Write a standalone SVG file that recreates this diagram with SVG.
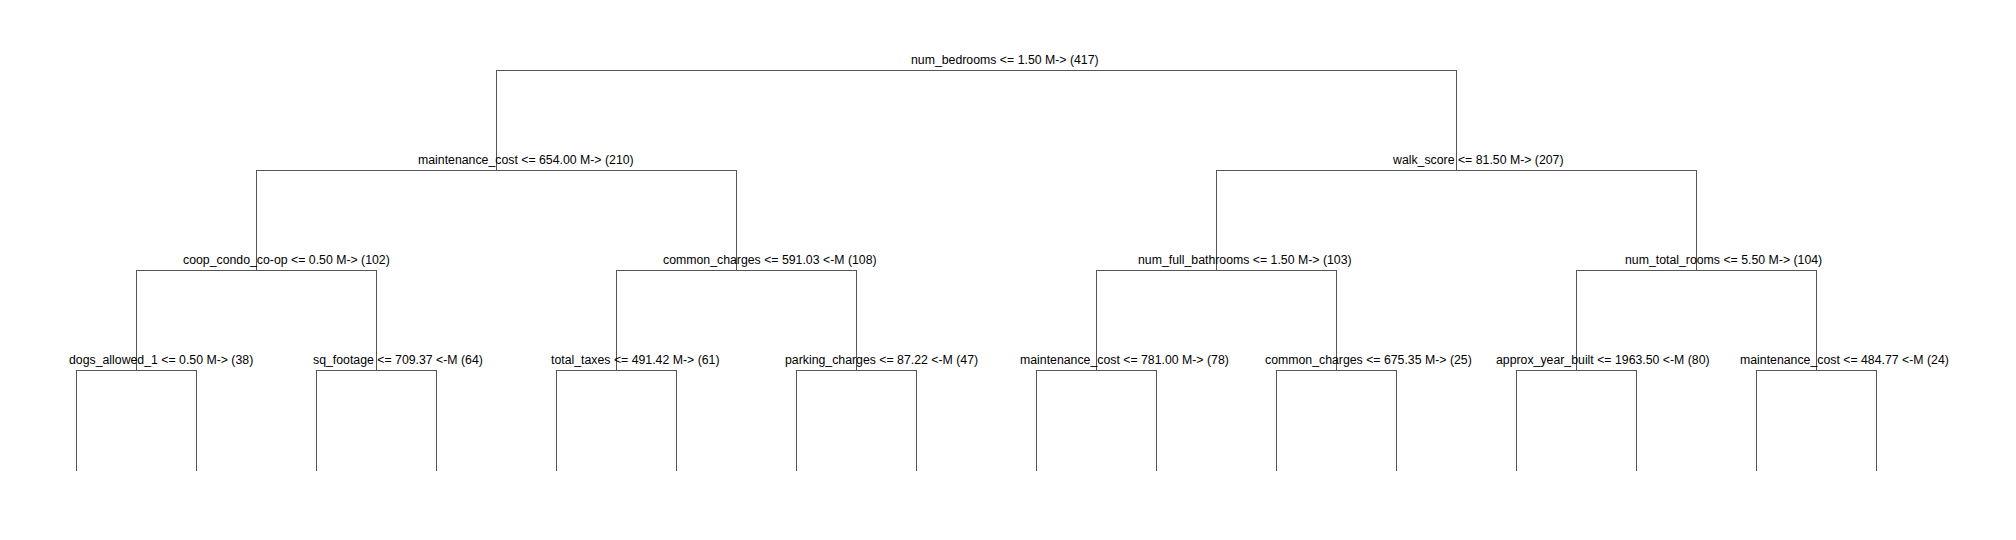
<svg xmlns="http://www.w3.org/2000/svg" width="2016" height="540" viewBox="0 0 2016 540">
<style>
.c{fill:none;stroke:#555;stroke-width:1;shape-rendering:crispEdges}
.t{font-family:"Liberation Sans",Arial,sans-serif;font-size:12.3px;fill:#000}
</style>
<rect width="2016" height="540" fill="#fff"/>
<g id="connectors">
<path class="c" d="M496.5 170.5V70.5H1456.5V170.5"/>
<path class="c" d="M256.5 270.5V170.5H736.5V270.5"/>
<path class="c" d="M1216.5 270.5V170.5H1696.5V270.5"/>
<path class="c" d="M136.5 370.5V270.5H376.5V370.5"/>
<path class="c" d="M616.5 370.5V270.5H856.5V370.5"/>
<path class="c" d="M1096.5 370.5V270.5H1336.5V370.5"/>
<path class="c" d="M1576.5 370.5V270.5H1816.5V370.5"/>
<path class="c" d="M76.5 471V370.5H196.5V471"/>
<path class="c" d="M316.5 471V370.5H436.5V471"/>
<path class="c" d="M556.5 471V370.5H676.5V471"/>
<path class="c" d="M796.5 471V370.5H916.5V471"/>
<path class="c" d="M1036.5 471V370.5H1156.5V471"/>
<path class="c" d="M1276.5 471V370.5H1396.5V471"/>
<path class="c" d="M1516.5 471V370.5H1636.5V471"/>
<path class="c" d="M1756.5 471V370.5H1876.5V471"/>
</g>
<g id="n_root"><text class="t" x="911" y="64">num_bedrooms &lt;= 1.50 M-&gt; (417)</text></g>
<g id="n_l"><text class="t" x="418" y="164">maintenance_cost &lt;= 654.00 M-&gt; (210)</text></g>
<g id="n_r"><text class="t" x="1393" y="164">walk_score &lt;= 81.50 M-&gt; (207)</text></g>
<g id="n_ll"><text class="t" x="183" y="264">coop_condo_co-op &lt;= 0.50 M-&gt; (102)</text></g>
<g id="n_lr"><text class="t" x="663" y="264">common_charges &lt;= 591.03 &lt;-M (108)</text></g>
<g id="n_rl"><text class="t" x="1138" y="264">num_full_bathrooms &lt;= 1.50 M-&gt; (103)</text></g>
<g id="n_rr"><text class="t" x="1625" y="264">num_total_rooms &lt;= 5.50 M-&gt; (104)</text></g>
<g id="n_lll"><text class="t" x="69" y="364">dogs_allowed_1 &lt;= 0.50 M-&gt; (38)</text></g>
<g id="n_llr"><text class="t" x="313" y="364">sq_footage &lt;= 709.37 &lt;-M (64)</text></g>
<g id="n_lrl"><text class="t" x="551" y="364">total_taxes &lt;= 491.42 M-&gt; (61)</text></g>
<g id="n_lrr"><text class="t" x="785" y="364">parking_charges &lt;= 87.22 &lt;-M (47)</text></g>
<g id="n_rll"><text class="t" x="1020" y="364">maintenance_cost &lt;= 781.00 M-&gt; (78)</text></g>
<g id="n_rlr"><text class="t" x="1265" y="364">common_charges &lt;= 675.35 M-&gt; (25)</text></g>
<g id="n_rrl"><text class="t" x="1496" y="364">approx_year_built &lt;= 1963.50 &lt;-M (80)</text></g>
<g id="n_rrr"><text class="t" x="1740" y="364">maintenance_cost &lt;= 484.77 &lt;-M (24)</text></g>
</svg>
